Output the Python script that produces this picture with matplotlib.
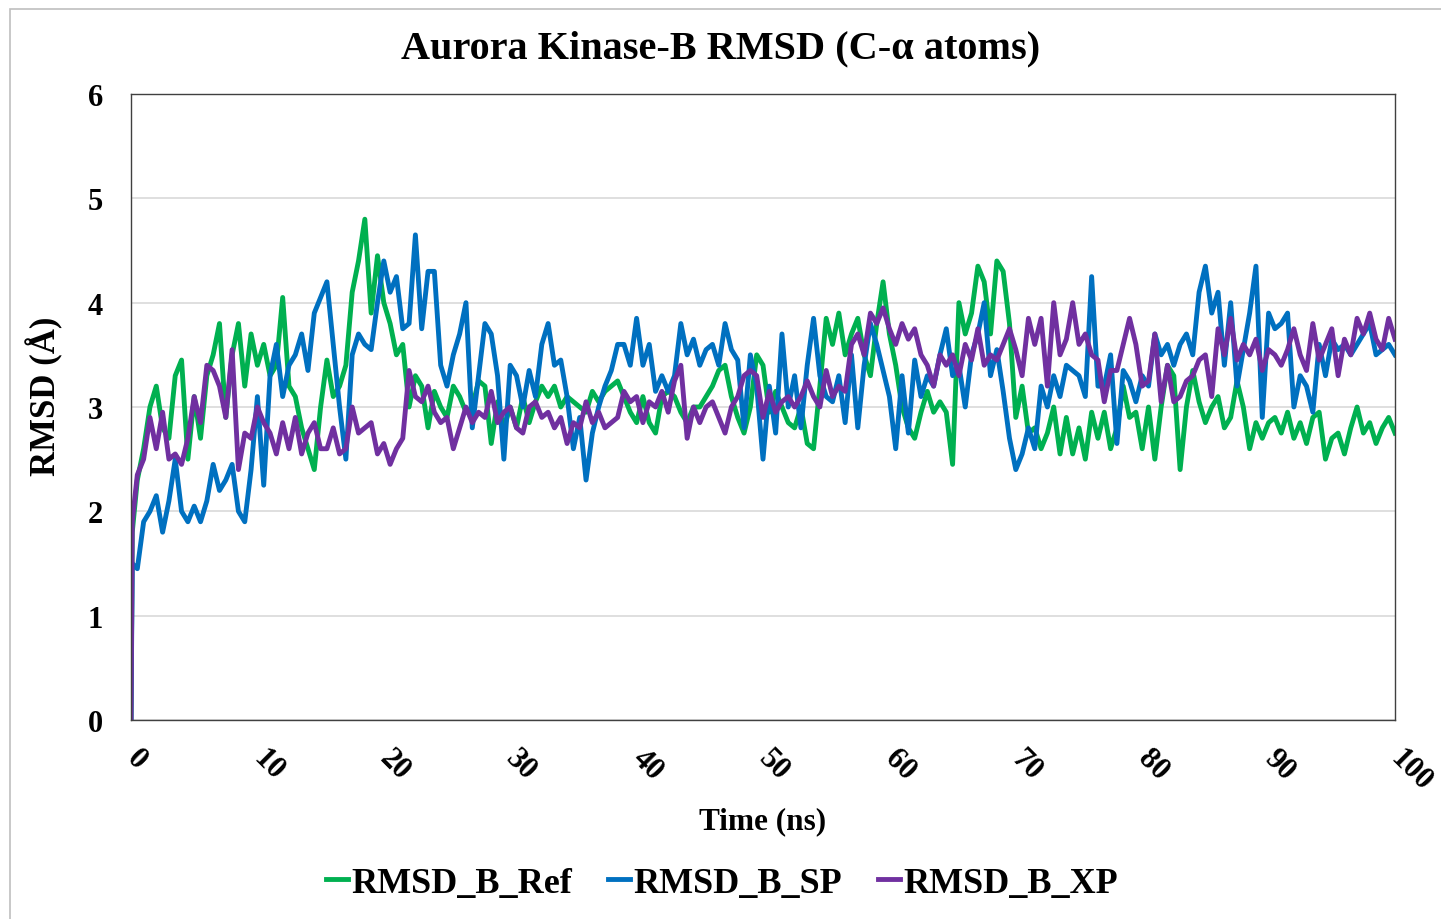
import numpy as np
import matplotlib
matplotlib.use("Agg")
import matplotlib.pyplot as plt
from matplotlib.patches import Rectangle

# time axis (ns): first frame at 0, then ~0.5 ns samples
time = np.r_[0.0, 0.1, np.arange(0.5, 100.01, 0.5)]

rmsd_ref = [0.0, 1.8,
    2.3, 2.6, 3.0, 3.2, 2.8, 2.7, 3.3, 3.45, 2.5, 3.1,
    2.7, 3.3, 3.5, 3.8, 2.9, 3.5, 3.8, 3.2, 3.7, 3.4,
    3.6, 3.3, 3.4, 4.05, 3.2, 3.1, 2.8, 2.6, 2.4, 3.0,
    3.45, 3.1, 3.2, 3.4, 4.1, 4.4, 4.8, 3.9, 4.45, 4.0,
    3.8, 3.5, 3.6, 3.0, 3.3, 3.2, 2.8, 3.15, 3.0, 2.9,
    3.2, 3.1, 2.95, 3.0, 3.25, 3.2, 2.65, 3.05, 2.8, 3.0,
    2.8, 3.1, 2.85, 3.05, 3.2, 3.1, 3.2, 3.0, 3.1, 3.05,
    3.0, 2.95, 3.15, 3.05, 3.15, 3.2, 3.25, 3.1, 2.95, 2.85,
    3.1, 2.85, 2.75, 3.1, 3.15, 3.1, 2.95, 2.85, 3.0, 3.0,
    3.1, 3.2, 3.35, 3.4, 3.1, 2.9, 2.75, 3.0, 3.5, 3.4,
    2.95, 3.15, 3.0, 2.85, 2.8, 3.0, 2.65, 2.6, 3.2, 3.85,
    3.6, 3.9, 3.5, 3.7, 3.85, 3.5, 3.3, 3.8, 4.2, 3.7,
    3.4, 3.0, 2.8, 2.7, 2.95, 3.15, 2.95, 3.05, 2.95, 2.45,
    4.0, 3.7, 3.9, 4.35, 4.2, 3.7, 4.4, 4.3, 3.8, 2.9,
    3.2, 2.75, 2.8, 2.6, 2.75, 3.0, 2.55, 2.9, 2.55, 2.8,
    2.5, 2.95, 2.7, 2.95, 2.6, 2.8, 3.2, 2.9, 2.95, 2.6,
    3.0, 2.5, 3.0, 3.4, 3.3, 2.4, 3.0, 3.35, 3.05, 2.85,
    3.0, 3.1, 2.8, 2.9, 3.25, 3.0, 2.6, 2.85, 2.7, 2.85,
    2.9, 2.75, 2.95, 2.7, 2.85, 2.65, 2.9, 2.95, 2.5, 2.7,
    2.75, 2.55, 2.8, 3.0, 2.75, 2.85, 2.65, 2.8, 2.9, 2.75]

rmsd_sp = [0.0, 1.5,
    1.45, 1.9, 2.0, 2.15, 1.8, 2.1, 2.5, 2.0, 1.9, 2.05,
    1.9, 2.1, 2.45, 2.2, 2.3, 2.45, 2.0, 1.9, 2.4, 3.1,
    2.25, 3.3, 3.6, 3.1, 3.4, 3.5, 3.7, 3.35, 3.9, 4.05,
    4.2, 3.6, 3.0, 2.5, 3.5, 3.7, 3.6, 3.55, 4.0, 4.4,
    4.1, 4.25, 3.75, 3.8, 4.65, 3.75, 4.3, 4.3, 3.4, 3.2,
    3.5, 3.7, 4.0, 2.8, 3.3, 3.8, 3.7, 3.3, 2.5, 3.4,
    3.3, 3.0, 3.35, 3.1, 3.6, 3.8, 3.4, 3.45, 3.1, 2.6,
    2.9, 2.3, 2.75, 3.0, 3.2, 3.35, 3.6, 3.6, 3.4, 3.85,
    3.4, 3.6, 3.15, 3.3, 3.15, 3.3, 3.8, 3.5, 3.65, 3.4,
    3.55, 3.6, 3.4, 3.8, 3.55, 3.45, 2.8, 3.5, 3.2, 2.5,
    3.2, 2.75, 3.7, 3.0, 3.3, 2.8, 3.4, 3.85, 3.3, 3.1,
    3.05, 3.3, 2.85, 3.5, 2.8, 3.4, 3.8, 3.6, 3.35, 3.1,
    2.6, 3.3, 2.75, 3.45, 3.1, 3.3, 3.2, 3.5, 3.75, 3.3,
    3.4, 3.0, 3.5, 3.7, 4.0, 3.3, 3.55, 3.15, 2.7, 2.4,
    2.55, 2.8, 2.6, 3.2, 3.0, 3.3, 3.1, 3.4, 3.35, 3.3,
    3.1, 4.25, 3.2, 3.2, 3.5, 2.65, 3.35, 3.25, 3.05, 3.3,
    3.2, 3.7, 3.5, 3.6, 3.4, 3.6, 3.7, 3.5, 4.1, 4.35,
    3.9, 4.1, 3.4, 4.0, 3.2, 3.55, 3.9, 4.35, 2.9, 3.9,
    3.75, 3.8, 3.9, 3.0, 3.3, 3.2, 2.95, 3.6, 3.3, 3.65,
    3.55, 3.6, 3.5, 3.6, 3.7, 3.8, 3.5, 3.55, 3.6, 3.5]

rmsd_xp = [0.0, 1.9,
    2.35, 2.5, 2.9, 2.6, 2.95, 2.5, 2.55, 2.45, 2.7, 3.1,
    2.85, 3.4, 3.35, 3.2, 2.9, 3.55, 2.4, 2.75, 2.7, 3.0,
    2.85, 2.75, 2.55, 2.85, 2.6, 2.9, 2.55, 2.75, 2.85, 2.6,
    2.6, 2.8, 2.55, 2.6, 3.0, 2.75, 2.8, 2.85, 2.55, 2.65,
    2.45, 2.6, 2.7, 3.35, 3.1, 3.05, 3.2, 2.95, 2.85, 2.9,
    2.6, 2.8, 3.0, 2.85, 2.95, 2.9, 3.15, 2.85, 2.95, 3.0,
    2.8, 2.75, 3.0, 3.05, 2.9, 2.95, 2.8, 2.9, 2.65, 2.85,
    2.8, 3.05, 2.85, 2.95, 2.8, 2.85, 2.9, 3.15, 3.05, 3.1,
    2.85, 3.05, 3.0, 3.15, 2.95, 3.25, 3.4, 2.7, 3.0, 2.85,
    3.0, 3.05, 2.9, 2.75, 3.0, 3.1, 3.3, 3.35, 3.3, 2.9,
    3.15, 2.95, 3.05, 3.1, 3.0, 3.1, 3.25, 3.1, 3.0, 3.35,
    3.1, 3.2, 3.15, 3.6, 3.7, 3.5, 3.9, 3.8, 3.95, 3.75,
    3.6, 3.8, 3.65, 3.75, 3.5, 3.4, 3.2, 3.5, 3.4, 3.5,
    3.3, 3.6, 3.45, 3.75, 3.4, 3.5, 3.45, 3.6, 3.75, 3.55,
    3.3, 3.85, 3.6, 3.85, 3.2, 4.0, 3.5, 3.65, 4.0, 3.6,
    3.7, 3.5, 3.45, 3.05, 3.35, 3.35, 3.6, 3.85, 3.6, 3.2,
    3.25, 3.7, 3.05, 3.4, 3.05, 3.1, 3.25, 3.3, 3.45, 3.5,
    3.1, 3.75, 3.5, 3.85, 3.45, 3.6, 3.5, 3.65, 3.35, 3.55,
    3.5, 3.4, 3.55, 3.75, 3.5, 3.35, 3.8, 3.45, 3.6, 3.75,
    3.3, 3.65, 3.5, 3.85, 3.7, 3.9, 3.65, 3.55, 3.85, 3.65]

labels = ["RMSD_B_Ref", "RMSD_B_SP", "RMSD_B_XP"]
colors = ["#00B050", "#0070C0", "#7030A0"]

plt.rcParams["font.family"] = ["Liberation Serif", "DejaVu Serif"]
plt.rcParams["font.weight"] = "bold"

W, H = 1441, 920
fig = plt.figure(figsize=(W / 100, H / 100), dpi=100)
ax = fig.add_axes([131 / W, 1 - 721 / H, (1395 - 131) / W, (721 - 95) / H])

for vals, col, lab in zip([rmsd_ref, rmsd_sp, rmsd_xp], colors, labels):
    ax.plot(time, vals, color=col, lw=3.5, label=lab, solid_joinstyle="round")

ax.set_xlim(0, 100)
ax.set_ylim(0, 6)
ax.set_xticks(range(0, 101, 10))
ax.set_yticks(range(0, 7))
ax.grid(axis="y", color="#d9d9d9", lw=1.2)
ax.set_axisbelow(True)
for s in ax.spines.values():
    s.set_color("#404040")
    s.set_linewidth(1.0)

ax.tick_params(length=0, labelsize=22)
ax.tick_params(axis="y", pad=20)
ax.tick_params(axis="x", pad=24)
for lbl in ax.get_xticklabels():
    lbl.set_rotation(-45)
    lbl.set_ha("left")
    lbl.set_va("center")
    lbl.set_rotation_mode("anchor")

fig.text(721 / W, 1 - 49 / H, "Aurora Kinase-B RMSD (C-\u03b1 atoms)",
         ha="center", va="center", fontsize=29, fontweight="bold")
fig.text(763 / W, 1 - 822 / H, "Time (ns)", ha="center", va="center",
         fontsize=22.5, fontweight="bold")
fig.text(45 / W, 1 - 396 / H, "RMSD (\u00c5)", ha="center", va="center",
         rotation=90, fontsize=25, fontweight="bold")

fig.legend(loc="center", bbox_to_anchor=(722 / W, 1 - 884 / H), ncol=3,
           frameon=False, fontsize=26, handlelength=0.6, handletextpad=0.1,
           columnspacing=1.0)

# outer chart border
fig.patches.append(Rectangle((10 / W, -0.1), 1.2, 1.1 - 10 / H,
                             transform=fig.transFigure, fill=False,
                             edgecolor="#bfbfbf", lw=1.2))

fig.savefig("out.png", dpi=100)
